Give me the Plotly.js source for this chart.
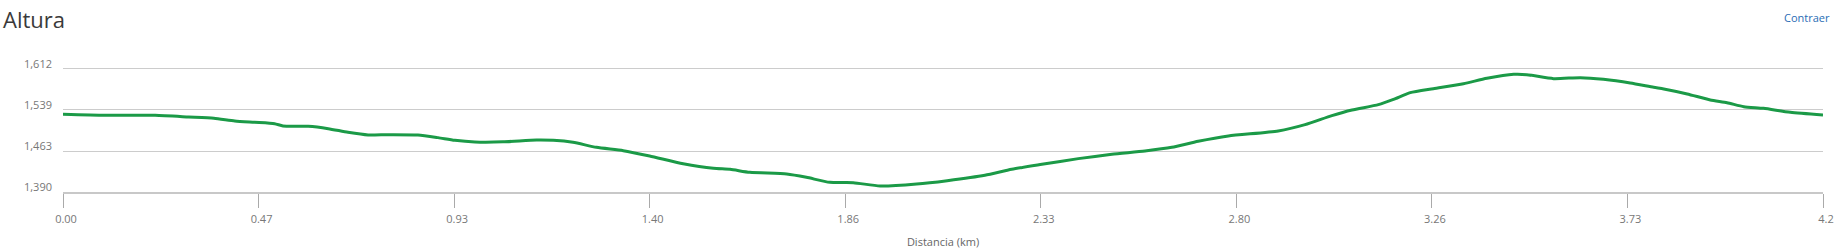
<!DOCTYPE html>
<html>
<head>
<meta charset="utf-8">
<script src="https://cdn.plot.ly/plotly-3.0.1.min.js"></script>
<style>
  html, body { margin: 0; padding: 0; background: #fff; }
  #chart { width: 1842px; height: 250px; }
</style>
</head>
<body>
<div id="chart"></div>
<script>
// Distance (km) and elevation (m)
const distanceKm = [0, 0.10, 0.22, 0.30, 0.36, 0.41, 0.457, 0.505, 0.525, 0.585, 0.633, 0.68, 0.728, 0.776, 0.847, 0.895, 0.935, 0.983, 1.05, 1.13, 1.17, 1.217, 1.273, 1.337, 1.40, 1.48, 1.552, 1.592, 1.639, 1.727, 1.774, 1.83, 1.886, 1.95, 2.037, 2.11, 2.20, 2.264, 2.336, 2.423, 2.503, 2.582, 2.646, 2.709, 2.781, 2.90, 2.964, 3.028, 3.076, 3.139, 3.175, 3.215, 3.27, 3.342, 3.398, 3.462, 3.493, 3.557, 3.621, 3.676, 3.74, 3.796, 3.82, 3.876, 3.931, 3.971, 4.011, 4.058, 4.122, 4.2];
const elevationM = [1530.5, 1528.6, 1528.4, 1525.4, 1523, 1518.2, 1515.8, 1513.3, 1509.1, 1508.5, 1504.3, 1497.7, 1492.9, 1493.5, 1492.9, 1488.1, 1483.3, 1480.3, 1480.5, 1483.9, 1483.3, 1479.7, 1470.6, 1464.6, 1455, 1441.1, 1432.7, 1430.9, 1425.5, 1422.5, 1416.5, 1407.4, 1406.8, 1400.8, 1404.4, 1410.5, 1420.1, 1430.9, 1439.9, 1450.2, 1458, 1464, 1470.6, 1481.5, 1491.1, 1500.1, 1511.5, 1527.8, 1538, 1547.6, 1557, 1569.3, 1576.5, 1585.5, 1595.2, 1602.4, 1601.8, 1594.6, 1596.4, 1593.4, 1586.8, 1578.9, 1575.9, 1566.9, 1556.1, 1551.2, 1544, 1541, 1533.8, 1529];

// Axis ticks
const xTickVals = [0, 0.4667, 0.9333, 1.4, 1.8667, 2.3333, 2.8, 3.2667, 3.7333, 4.2];
const xTickText = ["0.00", "0.47", "0.93", "1.40", "1.86", "2.33", "2.80", "3.26", "3.73", "4.2"];
const yTickVals = [1390, 1464, 1538, 1612];
const yTickText = ["1,390", "1,463", "1,539", "1,612"];

const trace = {
  x: distanceKm,
  y: elevationM,
  type: 'scatter',
  mode: 'lines',
  line: { color: '#1b9a47', width: 3, shape: 'spline', smoothing: 0.6 },
  hoverinfo: 'skip'
};

const layout = {
  width: 1842,
  height: 250,
  margin: { l: 63, r: 19, t: 65, b: 58, pad: 0 },
  paper_bgcolor: '#ffffff',
  plot_bgcolor: '#ffffff',
  showlegend: false,
  font: { family: '"Open Sans", sans-serif', color: '#666666', size: 12 },
  title: {
    text: 'Altura',
    font: { family: '"Open Sans", sans-serif', size: 22, color: '#3a3a3a' },
    xref: 'container', yref: 'container',
    x: 3 / 1842, xanchor: 'left',
    y: 1 - 20 / 250, yanchor: 'middle'
  },
  xaxis: {
    range: [0, 4.2],
    tickmode: 'array',
    tickvals: xTickVals,
    ticktext: xTickText,
    ticks: 'outside',
    ticklen: 14,
    tickwidth: 1,
    tickcolor: '#aaaaaa',
    showline: true,
    linecolor: '#c8c8c8',
    linewidth: 2,
    showgrid: false,
    zeroline: false,
    tickfont: { size: 11, color: '#777777' },
    ticklabelshift: 3,
    ticklabelstandoff: 2,
    title: {
      text: 'Distancia (km)',
      font: { size: 11, color: '#666666' },
      standoff: 13
    },
    fixedrange: true
  },
  yaxis: {
    range: [1390, 1619.2],
    tickmode: 'array',
    tickvals: yTickVals,
    ticktext: yTickText,
    showgrid: true,
    gridcolor: '#cccccc',
    gridwidth: 1,
    zeroline: false,
    showline: false,
    ticks: '',
    tickfont: { size: 11, color: '#777777' },
    ticklabelshift: -5,
    ticklabelstandoff: 10,
    fixedrange: true
  },
  annotations: [{
    text: 'Contraer',
    xref: 'paper', yref: 'paper',
    x: 1 + 9 / 1760, xanchor: 'right',
    y: 1 + 48 / 127, yanchor: 'middle',
    showarrow: false,
    font: { family: '"Open Sans", sans-serif', size: 11, color: '#2a6db5' }
  }]
};

Plotly.newPlot('chart', [trace], layout, { displayModeBar: false, staticPlot: true });
</script>
</body>
</html>
